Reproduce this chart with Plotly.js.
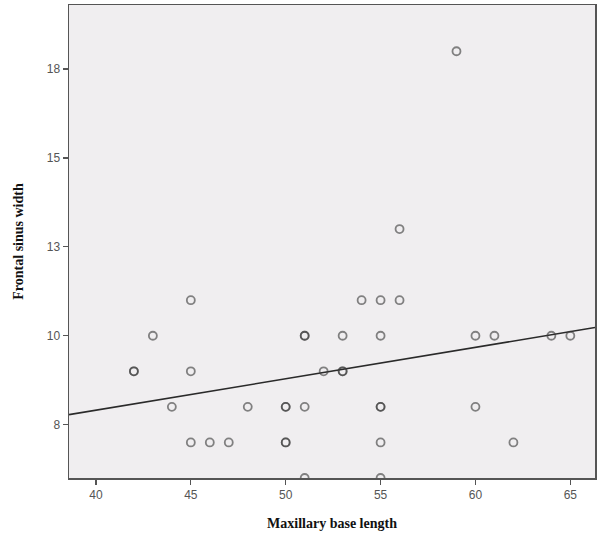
<!DOCTYPE html>
<html>
<head>
<meta charset="utf-8">
<script src="https://cdn.plot.ly/plotly-3.0.1.min.js"></script>
<style>html,body{margin:0;padding:0;background:#fff;}#chart{width:597px;height:533px;}</style>
</head>
<body>
<div id="chart"></div>
<script>
// Maxillary base length (x) and Frontal sinus width (y)
const maxillaryBase = [42, 42, 43, 44, 45, 45, 45, 46, 47, 48, 50, 50, 50, 50, 51, 51, 51, 51, 52, 53, 53, 53, 54, 55, 55, 55, 55, 55, 55, 56, 56, 59, 60, 60, 61, 62, 64, 65];
const frontalSinus  = [9, 9, 10, 8, 11, 9, 7, 7, 7, 8, 8, 8, 7, 7, 10, 10, 8, 6, 9, 10, 9, 9, 11, 11, 10, 8, 8, 7, 6, 11, 13, 18, 10, 8, 10, 7, 10, 10];
// Fit line
const fitIntercept = 4.37;
const fitSlope = 0.0884;
// Axis ticks
const xTickVals = [40, 45, 50, 55, 60, 65];
const xTickText = ["40", "45", "50", "55", "60", "65"];
const yTickVals = [7.5, 10, 12.5, 15, 17.5];
const yTickText = ["8", "10", "13", "15", "18"];

const xRange = [38.58, 66.3];
const yRange = [6.0, 19.3];
const fitX = xRange.slice();
const fitY = fitX.map(x => fitIntercept + fitSlope * x);

const data = [
  {
    x: fitX, y: fitY, type: 'scatter', mode: 'lines',
    line: {color: '#2a2a2a', width: 1.6}, hoverinfo: 'skip', showlegend: false
  },
  {
    x: maxillaryBase, y: frontalSinus, type: 'scatter', mode: 'markers',
    marker: {symbol: 'circle-open', size: 8, color: 'rgba(60,60,60,0.62)', line: {width: 1.8}},
    showlegend: false
  }
];

const axisCommon = {
  showgrid: false, zeroline: false,
  showline: true, mirror: true, linecolor: '#555555', linewidth: 1.5,
  ticks: 'outside', ticklen: 5, tickwidth: 1.2, tickcolor: '#555555',
  tickfont: {family: 'Liberation Sans, Arial, sans-serif', size: 12, color: '#555555'},
  automargin: false, fixedrange: true
};

const layout = {
  width: 597, height: 533,
  margin: {l: 69, r: 2, t: 5, b: 55},
  paper_bgcolor: '#ffffff',
  plot_bgcolor: '#f0eef0',
  xaxis: Object.assign({}, axisCommon, {
    range: xRange, tickmode: 'array', tickvals: xTickVals, ticktext: xTickText,
    title: {text: 'Maxillary base length', standoff: 17,
      font: {family: 'Liberation Serif, Times New Roman, serif', size: 14, color: '#111111', weight: 'bold'}}
  }),
  yaxis: Object.assign({}, axisCommon, {
    range: yRange, tickmode: 'array', tickvals: yTickVals, ticktext: yTickText,
    title: {text: 'Frontal sinus width', standoff: 20,
      font: {family: 'Liberation Serif, Times New Roman, serif', size: 14, color: '#111111', weight: 'bold'}}
  }),
  showlegend: false
};

Plotly.newPlot('chart', data, layout, {displayModeBar: false, staticPlot: true});
</script>
</body>
</html>
